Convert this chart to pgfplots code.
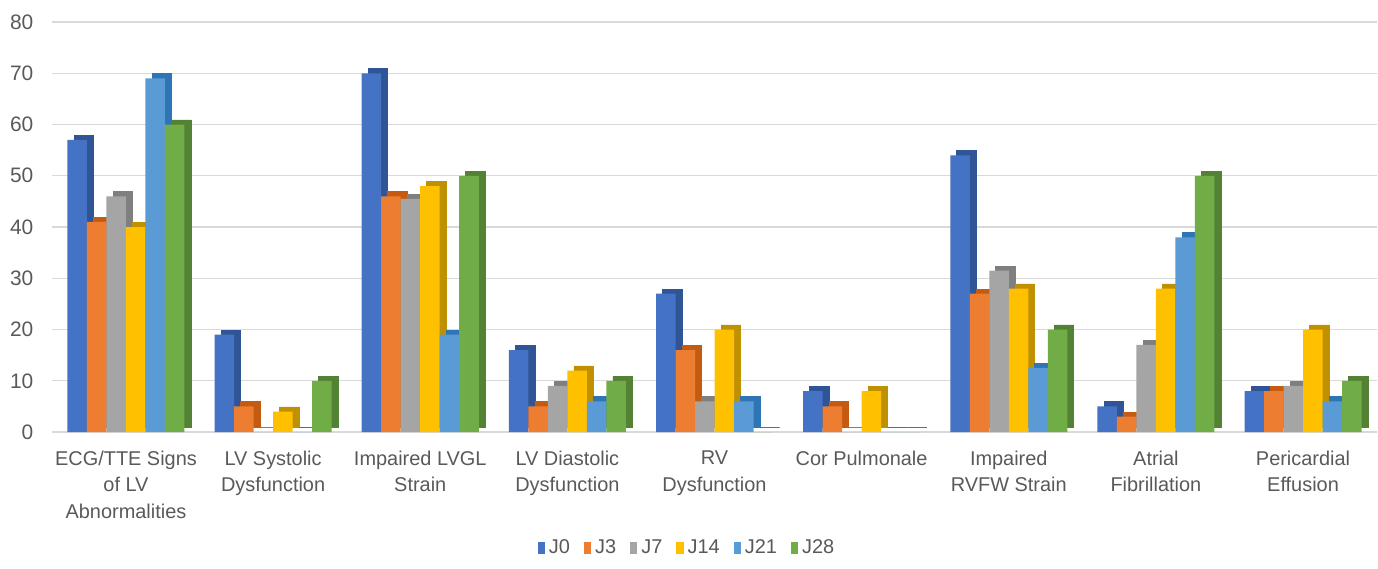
\documentclass[border=0pt]{standalone}
\usepackage{fontspec}
\setmainfont{Liberation Sans}
\usepackage{pgfplots}
\usepackage{pgfplotstable}
\pgfplotsset{compat=1.18}

\definecolor{c0}{HTML}{4472C4}\definecolor{c0d}{HTML}{2F5597}
\definecolor{c1}{HTML}{ED7D31}\definecolor{c1d}{HTML}{C55A11}
\definecolor{c2}{HTML}{A5A5A5}\definecolor{c2d}{HTML}{7F7F7F}
\definecolor{c3}{HTML}{FFC000}\definecolor{c3d}{HTML}{BF9000}
\definecolor{c4}{HTML}{5B9BD5}\definecolor{c4d}{HTML}{2E75B6}
\definecolor{c5}{HTML}{70AD47}\definecolor{c5d}{HTML}{548235}
\definecolor{txt}{HTML}{595959}
\definecolor{grd}{HTML}{D9D9D9}

% values per category (x = 0..8)
\pgfplotstableread{
x  J0 J3 J7   J14 J21  J28
0  57 41 46   40  69   60
1  19 5  0    4   0    10
2  70 46 45.5 48  19   50
3  16 5  9    12  6    10
4  27 16 6    20  6    0
5  8  5  0    8   0    0
6  54 27 31.5 28  12.5 20
7  5  3  17   28  38   50
8  8  8  9    20  6    10
}\datatable

% front face plus a darker shifted copy for the 3-D look
\pgfplotsset{
  bar3d/.style 2 args={fill=#1, draw=none,
    preaction={fill=#2, draw=#2, line width=0.4bp,
      transform canvas={shift={(3.3bp,2.3bp)}}},
    legend image code/.code={%
      \pgfsetfillcolor{#1}%
      \pgfpathrectangle{\pgfpoint{0bp}{-2.8bp}}{\pgfpoint{3.6bp}{6bp}}%
      \pgfusepath{fill}}},
}

\begin{document}
\begin{tikzpicture}
\useasboundingbox (-26.2bp,-68bp) rectangle (662.7bp,216bp);
\begin{axis}[
  at={(0,0)}, anchor=south west,
  scale only axis, width=662bp, height=205bp,
  clip=false,
  ybar=0pt, bar width=9.75bp,
  xmin=-0.5, xmax=8.5,
  ymin=0, ymax=80,
  ytick={0,10,...,80},
  xtick={0,...,8},
  xticklabels={ECG/TTE Signs\\of LV\\Abnormalities, LV Systolic\\Dysfunction,
    Impaired LVGL\\Strain, LV Diastolic\\Dysfunction, RV\\Dysfunction,
    Cor Pulmonale, Impaired\\RVFW Strain, Atrial\\Fibrillation,
    Pericardial\\Effusion},
  xticklabel style={align=center, font=\fontsize{10}{13.25}\selectfont,
    text=txt, yshift=-6bp},
  yticklabel style={font=\fontsize{10.5}{12}\selectfont, text=txt, xshift=-6bp},
  /pgf/number format/assume math mode=true,
  major tick length=0pt,
  axis line style={draw=none},
  ymajorgrids, grid style={grd, line width=0.6bp},
  legend style={at={(0.48,0)}, yshift=-58bp, anchor=center,
    draw=none, fill=none, font=\fontsize{10}{12}\selectfont, text=txt,
    /tikz/every even column/.append style={column sep=5bp}},
  legend columns=-1,
]
\addplot[bar3d={c0}{c0d}] table[x=x, y=J0] {\datatable};
\addplot[bar3d={c1}{c1d}] table[x=x, y=J3] {\datatable};
\addplot[bar3d={c2}{c2d}] table[x=x, y=J7] {\datatable};
\addplot[bar3d={c3}{c3d}] table[x=x, y=J14] {\datatable};
\addplot[bar3d={c4}{c4d}] table[x=x, y=J21] {\datatable};
\addplot[bar3d={c5}{c5d}] table[x=x, y=J28] {\datatable};
\legend{J0,J3,J7,J14,J21,J28}
\end{axis}
\end{tikzpicture}
\end{document}
